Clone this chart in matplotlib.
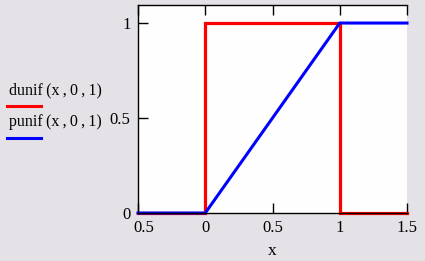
import numpy as np
import matplotlib.pyplot as plt
from matplotlib.transforms import ScaledTranslation

# values (Mathcad style plot)
x_dunif = [-0.5, 0.0, 0.0, 1.0, 1.0, 1.5]
y_dunif = [0.0, 0.0, 1.0, 1.0, 0.0, 0.0]

x_punif = [-0.5, 0.0, 1.0, 1.5]
y_punif = [0.0, 0.0, 1.0, 1.0]

x_ticks = [-0.5, 0.0, 0.5, 1.0, 1.5]
x_tick_labels = ["0.5", "0", "0.5", "1", "1.5"]
y_ticks = [0.0, 0.5, 1.0]
y_tick_labels = ["0", "0.5", "1"]

legend_labels = ["dunif\u2009(x\u2009,\u20090\u2009,\u20091)", "punif\u2009(x\u2009,\u20090\u2009,\u20091)"]

BG = "#e4e2e6"
RED = "#ff0000"
BLUE = "#0000ff"

plt.rcParams["font.family"] = ["Liberation Serif", "DejaVu Serif"]

fig = plt.figure(figsize=(4.25, 2.61), dpi=100, facecolor=BG)
ax = fig.add_axes([138 / 425, 48 / 261, 269 / 425, 208 / 261])
ax.set_facecolor("#fdfefd")

ax.plot(x_dunif, y_dunif, color=RED, lw=2.3, solid_joinstyle="miter", clip_on=False)
ax.plot(x_punif, y_punif, color=BLUE, lw=2.2, clip_on=False)

ax.set_xlim(-0.5, 1.5)
ax.set_ylim(0, 1.095)

ax.spines["right"].set_visible(False)
for s in ["left", "top", "bottom"]:
    ax.spines[s].set_linewidth(1.0)
    ax.spines[s].set_color("black")

ax.set_xticks(x_ticks)
ax.set_xticklabels(x_tick_labels, fontsize=12)
ax.set_yticks(y_ticks)
ax.set_yticklabels(y_tick_labels, fontsize=12)
ax.tick_params(axis="x", direction="in", length=7, width=1, top=True, pad=5)
ax.tick_params(axis="y", direction="in", length=7, width=1, pad=5.5)
ax.set_xlabel("x", fontsize=12.5, labelpad=5)

# first x label: minus sign is not visible in the original, so it sits right of the tick
first = ax.get_xticklabels()[0]
first.set_transform(first.get_transform() + ScaledTranslation(6 / 100, 0, fig.dpi_scale_trans))

# legend drawn in figure coords on the left
fig.text(9 / 425, 1 - 90 / 261, legend_labels[0], fontsize=11.5, va="center", ha="left")
fig.add_artist(plt.Line2D([7 / 425, 41 / 425], [1 - 106 / 261] * 2, color=RED, lw=2.2,
                          transform=fig.transFigure))
fig.text(9 / 425, 1 - 122 / 261, legend_labels[1], fontsize=11.5, va="center", ha="left")
fig.add_artist(plt.Line2D([7 / 425, 41 / 425], [1 - 138 / 261] * 2, color=BLUE, lw=2.2,
                          transform=fig.transFigure))

fig.savefig("out.png", dpi=100, facecolor=BG)
